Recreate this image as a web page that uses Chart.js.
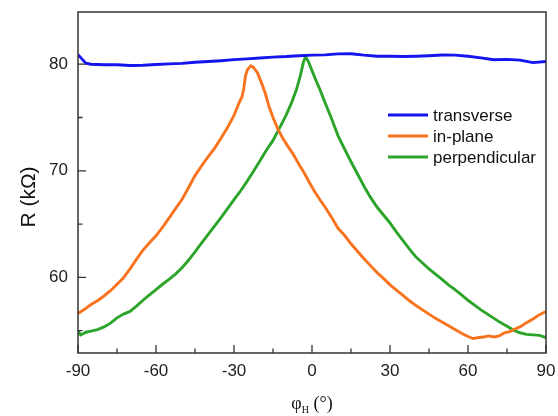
<!DOCTYPE html>
<html><head><meta charset="utf-8">
<script src="https://cdn.jsdelivr.net/npm/chart.js@4.4.0/dist/chart.umd.min.js"></script>
<style>html,body{margin:0;padding:0;background:#fff}#wrap{width:558px;height:416px}</style>
</head><body><div id="wrap"><canvas id="c" width="558" height="416"></canvas></div>
<script>
const seriesLabels = ['transverse', 'in-plane', 'perpendicular'];
const seriesColors = ['#1414ee', '#f9731e', '#2ca42a'];

const transverseAngle = [-90,-88.5,-87,-85,-80,-75,-70,-65,-60,-55,-50,-45,-40,-35,-30,-25,-20,-15,-10,-5,0,5,10,15,20,25,30,35,40,45,50,55,60,65,70,75,80,85,90];
const transverseR = [80.9,80.5,80.1,80.0,79.95,79.95,79.88,79.9,79.97,80.03,80.08,80.18,80.25,80.33,80.43,80.5,80.58,80.67,80.72,80.8,80.85,80.88,80.97,80.98,80.85,80.75,80.75,80.72,80.75,80.8,80.87,80.85,80.75,80.6,80.42,80.45,80.38,80.15,80.25];

const inPlaneAngle = [-90,-87.5,-85,-82.5,-80,-77.5,-75,-72.5,-70,-67.5,-65,-62.5,-60,-57.5,-55,-52.5,-50,-47.5,-45,-42.5,-40,-37.5,-35,-32.5,-30,-28,-27,-26.3,-25.6,-24.8,-23.5,-22.5,-21,-19.5,-18,-16.5,-15,-13,-11,-9,-7,-5,-3,-1,1,3,5,7.5,10,12.5,15,17.5,20,22.5,25,27.5,30,32.5,35,37.5,40,42.5,45,47.5,50,52.5,55,57.5,60,62,64,66,68,70,72,74,76,78,80,82.5,85,87.5,90];
const inPlaneR = [56.6,57.0,57.45,57.8,58.25,58.75,59.35,59.95,60.8,61.7,62.55,63.25,63.9,64.7,65.55,66.45,67.3,68.4,69.55,70.45,71.3,72.1,73.05,74.05,75.2,76.4,76.9,77.6,78.9,79.5,79.85,79.7,79.2,78.3,77.3,76.0,75.0,73.85,72.95,72.2,71.45,70.6,69.8,68.9,68.05,67.3,66.6,65.65,64.6,63.95,63.15,62.45,61.75,61.1,60.45,59.9,59.3,58.8,58.3,57.8,57.35,56.95,56.55,56.15,55.8,55.45,55.1,54.75,54.45,54.25,54.35,54.4,54.5,54.4,54.5,54.8,54.9,55.15,55.35,55.75,56.1,56.5,56.8];

const perpAngle = [-90,-89,-88,-87,-85,-82.5,-80,-77.5,-75,-72.5,-70,-67.5,-65,-62.5,-60,-57.5,-55,-52.5,-50,-47.5,-45,-42.5,-40,-37.5,-35,-32.5,-30,-27.5,-25,-22.5,-20,-17.5,-15,-12.5,-10,-8,-6,-4.5,-3.3,-2.5,-1.5,0,1.5,3,5,7.5,10,12.5,15,17.5,20,22.5,25,27.5,30,32.5,35,37.5,40,42.5,45,47.5,50,52.5,55,57.5,60,62.5,65,67.5,70,72.5,75,77.5,80,82.5,85,87.5,90];
const perpR = [54.95,54.6,54.7,54.85,54.95,55.1,55.35,55.7,56.2,56.55,56.8,57.3,57.85,58.35,58.85,59.35,59.8,60.3,60.9,61.6,62.4,63.2,64.0,64.8,65.6,66.45,67.3,68.1,69.0,69.95,70.95,71.95,72.85,74.0,75.2,76.3,77.6,78.9,80.2,80.7,80.3,79.4,78.5,77.65,76.4,74.9,73.3,72.05,70.85,69.7,68.55,67.5,66.6,65.85,65.1,64.25,63.45,62.65,61.9,61.35,60.8,60.3,59.8,59.3,58.85,58.35,57.85,57.4,56.95,56.55,56.15,55.75,55.4,55.05,54.8,54.65,54.6,54.55,54.35];

const xTickLabels = [-90, -60, -30, 0, 30, 60, 90];
const xMinorTicks = [-75, -45, -15, 15, 45, 75];
const yTickLabels = [60, 70, 80];
const yMinorTicks = [55, 65, 75];
const yTitle = 'R (kΩ)';
const xTitleMain = 'φ', xTitleSub = 'H', xTitleRest = ' (°)';

const toPts = (xs, ys) => xs.map((x, i) => ({x: x, y: ys[i]}));
const seriesData = [toPts(transverseAngle, transverseR), toPts(inPlaneAngle, inPlaneR), toPts(perpAngle, perpR)];

const SANS = '"Liberation Sans", Arial, sans-serif';
const SERIF = '"Liberation Serif", "Times New Roman", serif';

const framePlugin = {
  id: 'frame',
  afterDraw(chart) {
    const ctx = chart.ctx, a = chart.chartArea;
    const xs = chart.scales.x, ys = chart.scales.y;
    ctx.save();
    ctx.strokeStyle = '#333';
    ctx.lineWidth = 1.5;
    ctx.strokeRect(a.left, a.top, a.right - a.left, a.bottom - a.top);
    ctx.lineWidth = 1.3;
    ctx.beginPath();
    xTickLabels.forEach(v => { const p = xs.getPixelForValue(v); ctx.moveTo(p, a.bottom); ctx.lineTo(p, a.bottom - 8); });
    xMinorTicks.forEach(v => { const p = xs.getPixelForValue(v); ctx.moveTo(p, a.bottom); ctx.lineTo(p, a.bottom - 4.5); });
    yTickLabels.forEach(v => { const p = ys.getPixelForValue(v); ctx.moveTo(a.left, p); ctx.lineTo(a.left + 8, p); });
    yMinorTicks.forEach(v => { const p = ys.getPixelForValue(v); ctx.moveTo(a.left, p); ctx.lineTo(a.left + 4.5, p); });
    ctx.stroke();

    // legend
    chart.data.datasets.forEach((ds, i) => {
      const ly = a.top + 103 + i * 21;
      ctx.strokeStyle = ds.borderColor;
      ctx.lineWidth = 3;
      ctx.beginPath();
      ctx.moveTo(a.left + 310, ly); ctx.lineTo(a.left + 350, ly);
      ctx.stroke();
      ctx.fillStyle = '#111';
      ctx.font = '17px ' + SANS;
      ctx.textAlign = 'left';
      ctx.textBaseline = 'alphabetic';
      ctx.fillText(ds.label, a.left + 355, ly + 6);
    });

    // y title
    ctx.save();
    ctx.translate(34.5, 197);
    ctx.rotate(-Math.PI / 2);
    ctx.fillStyle = '#111';
    ctx.font = '21px ' + SANS;
    ctx.textAlign = 'center';
    ctx.textBaseline = 'alphabetic';
    ctx.fillText(yTitle, 0, 0);
    ctx.restore();

    // x title with subscript
    const big = '18px ' + SERIF, small = '10px ' + SERIF;
    ctx.font = big; const w1 = ctx.measureText(xTitleMain).width; const w3 = ctx.measureText(xTitleRest).width;
    ctx.font = small; const w2 = ctx.measureText(xTitleSub).width;
    const total = w1 + w2 + w3;
    let x0 = (a.left + a.right) / 2 - total / 2;
    const base = 409;
    ctx.fillStyle = '#111';
    ctx.textAlign = 'left';
    ctx.font = big; ctx.fillText(xTitleMain, x0, base); x0 += w1;
    ctx.font = small; ctx.fillText(xTitleSub, x0, base + 4); x0 += w2;
    ctx.font = big; ctx.fillText(xTitleRest, x0, base);
    ctx.restore();
  }
};

const zeroPad = s => { s.paddingTop = 0; s.paddingBottom = 0; s.paddingLeft = 0; s.paddingRight = 0; };

new Chart(document.getElementById('c'), {
  type: 'line',
  data: {
    datasets: seriesData.map((d, i) => ({
      label: seriesLabels[i],
      data: d,
      borderColor: seriesColors[i],
      backgroundColor: seriesColors[i],
      borderWidth: 2.9,
      pointRadius: 0,
      tension: 0,
      fill: false
    }))
  },
  options: {
    responsive: false,
    devicePixelRatio: 1,
    animation: false,
    layout: { padding: { top: 12, right: 12, left: 0, bottom: 0 } },
    plugins: { legend: { display: false }, tooltip: { enabled: false } },
    scales: {
      x: {
        type: 'linear', min: -90, max: 90,
        grid: { display: false, drawTicks: false },
        border: { display: false },
        ticks: { font: { family: SANS, size: 17 }, color: '#222', padding: 8, maxRotation: 0, autoSkip: false },
        afterBuildTicks: s => { s.ticks = xTickLabels.map(v => ({ value: v })); },
        afterFit: s => { s.height = 63; zeroPad(s); }
      },
      y: {
        type: 'linear', min: 52.9, max: 84.9,
        grid: { display: false, drawTicks: false },
        border: { display: false },
        ticks: { font: { family: SANS, size: 17 }, color: '#222', padding: 10 },
        afterBuildTicks: s => { s.ticks = yTickLabels.map(v => ({ value: v })); },
        afterFit: s => { s.width = 78; zeroPad(s); }
      }
    }
  },
  plugins: [framePlugin]
});
</script>
</body></html>
